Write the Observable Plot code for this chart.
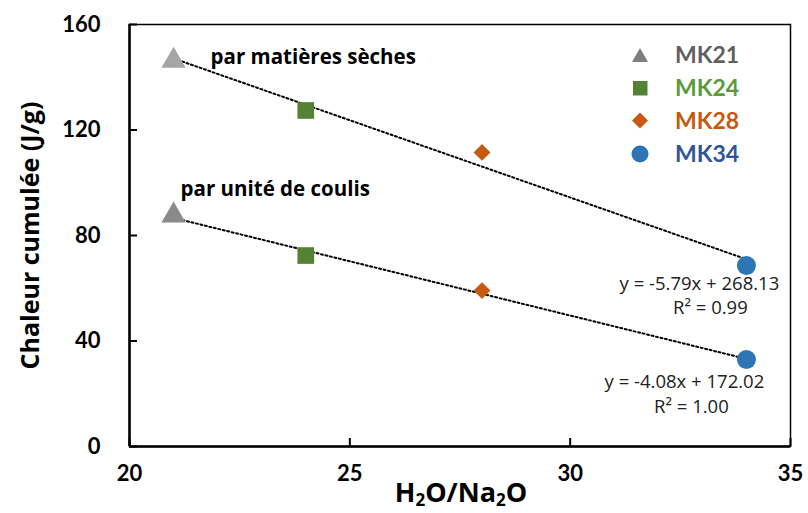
<!DOCTYPE html>
<html><head><meta charset="utf-8">
<script src="https://cdn.jsdelivr.net/npm/d3@7"></script>
<script src="https://cdn.jsdelivr.net/npm/@observablehq/plot@0.6"></script>
<style>
body{margin:0;background:#fff;font-family:Lato,"Open Sans",sans-serif;}
#wrap{position:relative;width:808px;height:513px;}
#legend{position:absolute;left:625px;top:38px;font-weight:bold;font-size:23px;line-height:33px;}
#legend div{display:flex;align-items:center;}
#legend svg{width:30px;height:30px;margin-right:20px;}
</style></head>
<body><div id="wrap"><div id="legend"></div></div>
<script>
const ratio = [21, 24, 28, 34];
const samples = ["MK21", "MK24", "MK28", "MK34"];
const parSeches = [146.3, 127.4, 111.5, 68.6];
const parCoulis = [87.6, 72.4, 59.1, 33.0];
const eqSeches = ["y = -5.79x + 268.13", "R² = 0.99"];
const eqCoulis = ["y = -4.08x + 172.02", "R² = 1.00"];
const xTicks = [20, 25, 30, 35];
const yTicks = [0, 40, 80, 120, 160];

const markerFill = {MK21: "#a5a5a5", MK24: "#548235", MK28: "#c55a11", MK34: "#2e75b6"};
const markerFillLow = {MK21: "#8a8a8a", MK24: "#548235", MK28: "#c55a11", MK34: "#2e75b6"};
const textFill = {MK21: "#5f5f5f", MK24: "#5a9a3b", MK28: "#c55a11", MK34: "#2f5597"};
const symbols = {MK21: "triangle", MK24: "square", MK28: "diamond2", MK34: "circle"};
const sizes = {MK21: 9, MK24: 9.4, MK28: 7.6, MK34: 9.5};

const seches = ratio.map((x, i) => ({x, y: parSeches[i], s: samples[i]}));
const coulis = ratio.map((x, i) => ({x, y: parCoulis[i], s: samples[i]}));

const font = "Lato, 'Open Sans', sans-serif";
const font2 = "'Open Sans', Lato, sans-serif";

const chart = Plot.plot({
  width: 808, height: 513,
  marginLeft: 129, marginRight: 18, marginTop: 24, marginBottom: 67,
  style: {fontFamily: font, background: "white", overflow: "visible"},
  x: {domain: [20, 35]},
  y: {domain: [0, 160]},
  r: {type: "identity"},
  marks: [
    Plot.frame({stroke: "#000", strokeWidth: 1.5}),
    Plot.ruleX([20], {stroke: "#000", strokeWidth: 2.5}),
    Plot.ruleY([0], {stroke: "#000", strokeWidth: 2.5}),
    Plot.axisY({ticks: yTicks, tickSize: -8, tickPadding: 37, tickFormat: d => d, fontSize: 22, fontWeight: "bold", label: null, strokeWidth: 2, color: "#000"}),
    Plot.axisX({ticks: xTicks, tickSize: -8, tickPadding: 27, tickFormat: d => d, fontSize: 22, fontWeight: "bold", label: null, strokeWidth: 2, color: "#000"}),
    Plot.linearRegressionY(seches, {x: "x", y: "y", ci: 0, stroke: "#000", strokeWidth: 2, strokeDasharray: "2,2.6"}),
    Plot.linearRegressionY(coulis, {x: "x", y: "y", ci: 0, stroke: "#000", strokeWidth: 2, strokeDasharray: "2,2.6"}),
    Plot.dot(seches, {x: "x", y: "y", symbol: d => symbols[d.s], fill: d => markerFill[d.s], r: d => sizes[d.s]}),
    Plot.dot(coulis, {x: "x", y: "y", symbol: d => symbols[d.s], fill: d => markerFillLow[d.s], r: d => sizes[d.s]}),
    Plot.text([seches[0]], {x: "x", y: "y", text: () => "par matières sèches", textAnchor: "start", dx: 37, dy: -3, fontSize: 20.5, fontWeight: "bold", fill: "#000", fontFamily: font2}),
    Plot.text([coulis[0]], {x: "x", y: "y", text: () => "par unité de coulis", textAnchor: "start", dx: 7, dy: -26, fontSize: 20.5, fontWeight: "bold", fill: "#000", fontFamily: font2}),
    Plot.text([seches[3]], {x: "x", y: "y", text: () => eqSeches[0], dx: -47, dy: 19, fontSize: 18.5, fill: "#222", fontFamily: font2}),
    Plot.text([seches[3]], {x: "x", y: "y", text: () => eqSeches[1], dx: -36, dy: 43, fontSize: 18.5, fill: "#222", fontFamily: font2}),
    Plot.text([coulis[3]], {x: "x", y: "y", text: () => eqCoulis[0], dx: -62, dy: 23, fontSize: 18.5, fill: "#222", fontFamily: font2}),
    Plot.text([coulis[3]], {x: "x", y: "y", text: () => eqCoulis[1], dx: -55, dy: 48, fontSize: 18.5, fill: "#222", fontFamily: font2}),
    Plot.text(["Chaleur cumulée (J/g)"], {frameAnchor: "left", textAnchor: "middle", rotate: -90, dx: -99, fontSize: 25, fontWeight: "bold", fill: "#000", fontFamily: font2})
  ]
});
document.getElementById("wrap").prepend(chart);

// x-axis title with subscripts
const svg = d3.select(chart);
const xt = svg.append("text")
  .attr("x", 461).attr("y", 502)
  .attr("text-anchor", "middle")
  .attr("font-family", font2).attr("font-size", 27).attr("font-weight", "bold").attr("fill", "#000");
xt.append("tspan").text("H");
xt.append("tspan").attr("font-size", 17).attr("dy", 4).text("2");
xt.append("tspan").attr("dy", -4).text("O/Na");
xt.append("tspan").attr("font-size", 17).attr("dy", 4).text("2");
xt.append("tspan").attr("dy", -4).text("O");

// legend
const legendShapes = {
  MK21: '<polygon points="15,8 23,22 7,22" fill="#7f7f7f"/>',
  MK24: '<rect x="8" y="8" width="14.5" height="14.5" fill="#548235"/>',
  MK28: '<polygon points="15,6.5 23,14.5 15,22.5 7,14.5" fill="#c55a11"/>',
  MK34: '<circle cx="15" cy="15" r="8.5" fill="#2e75b6"/>'
};
const lg = document.getElementById("legend");
samples.forEach(s => {
  const row = document.createElement("div");
  row.innerHTML = `<svg viewBox="0 0 30 30">${legendShapes[s]}</svg><span style="color:${textFill[s]}">${s}</span>`;
  lg.appendChild(row);
});
</script>
</body></html>
